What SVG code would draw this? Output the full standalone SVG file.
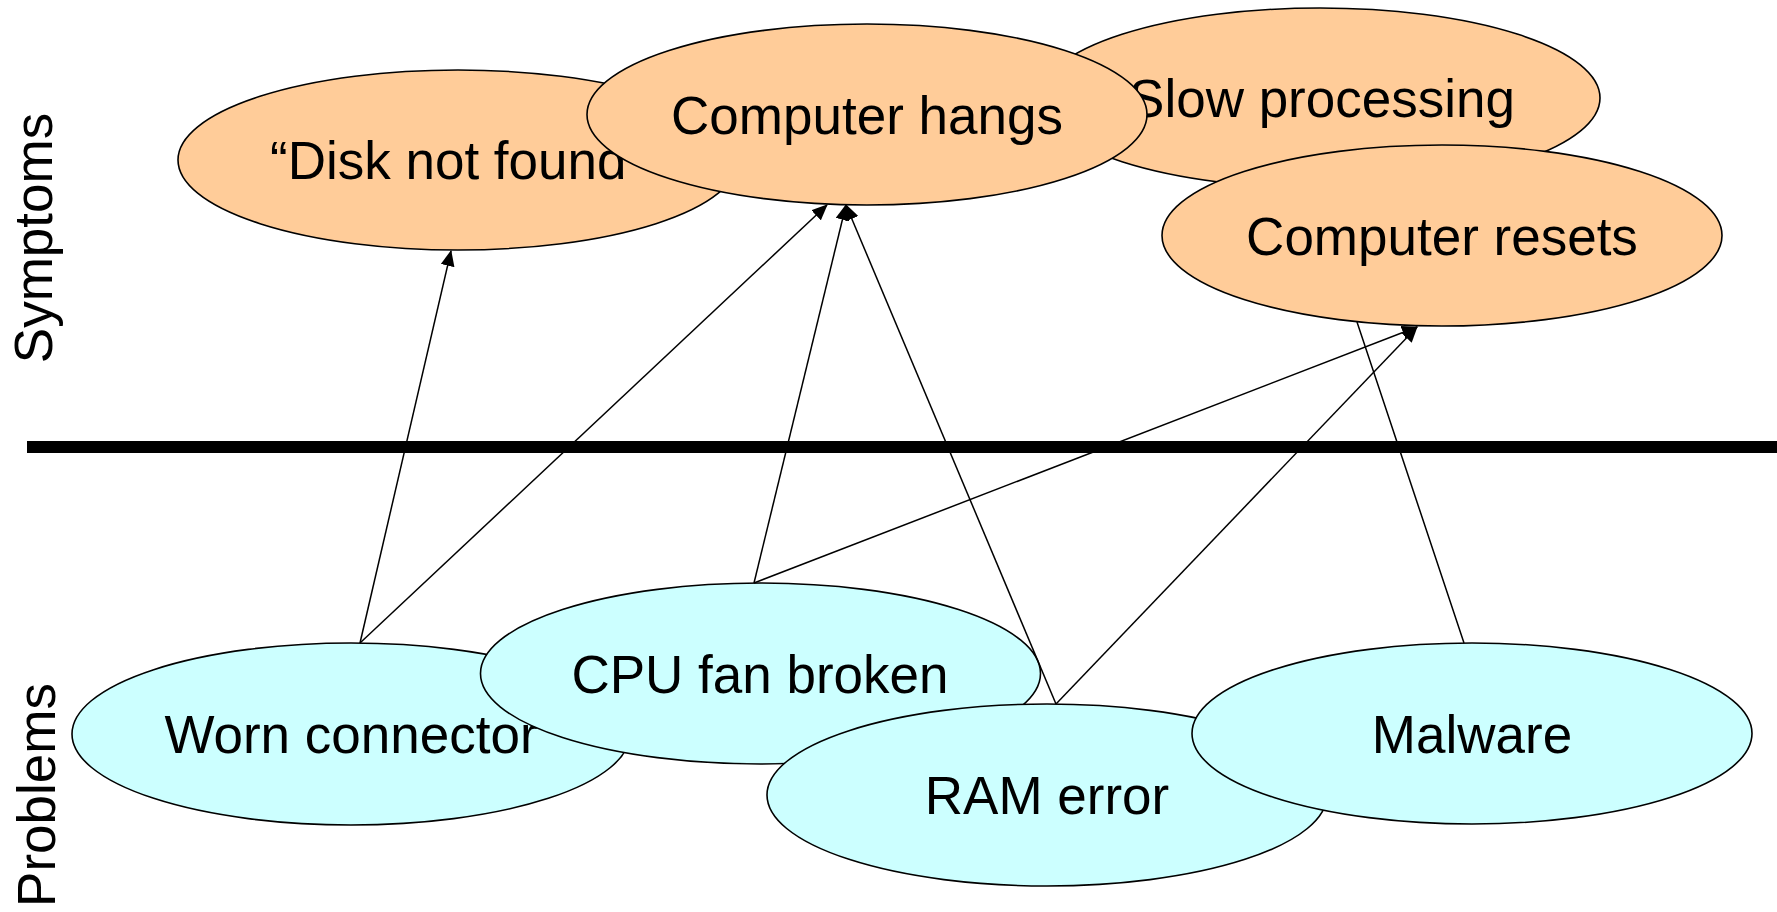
<svg xmlns="http://www.w3.org/2000/svg" width="1777" height="912" viewBox="0 0 1777 912">
<style>
.sym{fill:#FFCC99;stroke:#000;stroke-width:1.6}
.prob{fill:#CCFFFF;stroke:#000;stroke-width:1.6}
.lbl{font-family:"Liberation Sans",Arial,sans-serif;font-size:53px;fill:#000;text-anchor:middle}
.side{font-family:"Liberation Sans",Arial,sans-serif;font-size:53px;fill:#000;text-anchor:middle}
.edge{stroke:#000;stroke-width:1.5;fill:none}
</style>
<defs>
<marker id="arr" markerUnits="userSpaceOnUse" markerWidth="16" markerHeight="14" refX="15" refY="7" orient="auto">
<path d="M0,0 L16,7 L0,14 Z" fill="#000"/>
</marker>
</defs>
<rect width="1777" height="912" fill="#fff"/>
<g id="label-symptoms"><text class="side" transform="translate(52,238) rotate(-90)">Symptoms</text></g>
<g id="label-problems"><text class="side" transform="translate(55,795) rotate(-90)">Problems</text></g>
<g id="divider"><line x1="27" y1="447" x2="1777" y2="447" stroke="#000" stroke-width="12"/></g>
<g id="node-slow"><ellipse class="sym" cx="1320" cy="98" rx="280" ry="90"/><text class="lbl" x="1322" y="117">Slow processing</text></g>
<g id="node-disk"><ellipse class="sym" cx="458" cy="160" rx="280" ry="90"/><text class="lbl" x="270" y="179" style="text-anchor:start">“Disk not found</text></g>
<g id="node-hangs"><ellipse class="sym" cx="867" cy="114.5" rx="280" ry="90.5"/><text class="lbl" x="867" y="134">Computer hangs</text></g>
<g id="node-resets"><ellipse class="sym" cx="1442" cy="235.5" rx="280" ry="90.5"/><text class="lbl" x="1442" y="255">Computer resets</text></g>
<g id="node-worn"><ellipse class="prob" cx="351" cy="734" rx="279" ry="91"/><text class="lbl" x="351" y="753">Worn connector</text></g>
<g id="node-cpu"><ellipse class="prob" cx="760.5" cy="673.5" rx="280" ry="90.5"/><text class="lbl" x="760" y="693">CPU fan broken</text></g>
<g id="node-ram"><ellipse class="prob" cx="1047" cy="795" rx="280" ry="91"/><text class="lbl" x="1047" y="814">RAM error</text></g>
<g id="node-malware"><ellipse class="prob" cx="1472" cy="733.5" rx="280" ry="90.5"/><text class="lbl" x="1472" y="753">Malware</text></g>
<g id="connectors">
<line class="edge" x1="360" y1="643" x2="451" y2="251" marker-end="url(#arr)"/>
<line class="edge" x1="360" y1="643" x2="827" y2="205" marker-end="url(#arr)"/>
<line class="edge" x1="754" y1="583" x2="846" y2="205" marker-end="url(#arr)"/>
<line class="edge" x1="754" y1="583" x2="1417" y2="327" marker-end="url(#arr)"/>
<line class="edge" x1="1056" y1="704" x2="846" y2="205" marker-end="url(#arr)"/>
<line class="edge" x1="1056" y1="704" x2="1417" y2="327" marker-end="url(#arr)"/>
<line class="edge" x1="1464" y1="643" x2="1357" y2="322"/>
</g>
</svg>
